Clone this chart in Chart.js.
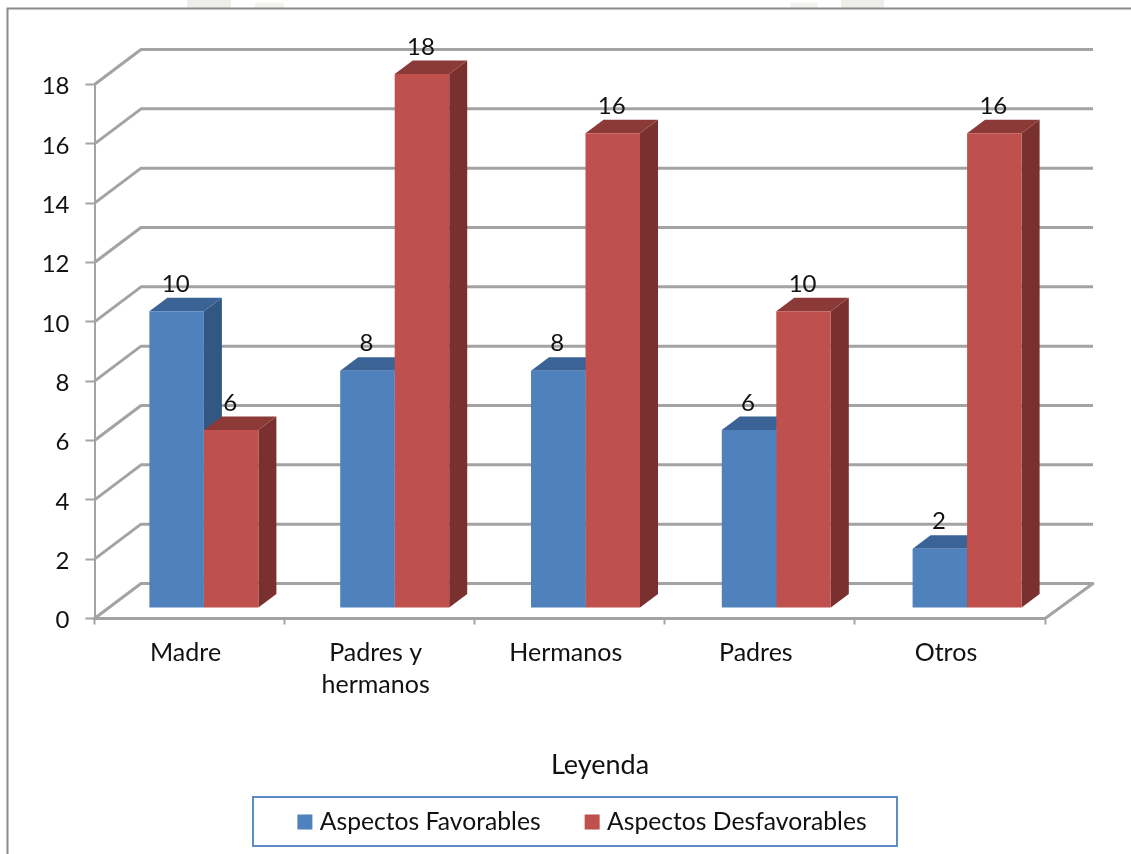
<!DOCTYPE html>
<html>
<head>
<meta charset="utf-8">
<style>html,body{margin:0;padding:0;background:#fff}canvas{display:block}</style>
<script src="https://cdn.jsdelivr.net/npm/chart.js@4"></script>
</head>
<body>
<canvas id="c" width="1131" height="854"></canvas>
<script>
const categories = [["Madre"], ["Padres y", "hermanos"], ["Hermanos"], ["Padres"], ["Otros"]];
const favorables = [10, 8, 8, 6, 2];
const desfavorables = [6, 18, 16, 10, 16];
const seriesNames = ["Aspectos Favorables", "Aspectos Desfavorables"];
const axisTitle = "Leyenda";
const FONT = "Lato, sans-serif";
const GRID = "#a3a3a3";
const barColors = ["#4f81bd", "#c0504d"];

const depth = {wall: [46.5, -35], bar: [18, -13.5], shiftY: -10.5};
const sideColors = ["#335783", "#7a302e"];
const topColors = ["#3b6396", "#8c3a37"];
const legendFont = 24.7, legendPad = 44, legendDx = 59.5, titleDx = 77.5;

const threeD = {
  id: "threeD",
  beforeDraw(chart) {
    const c = chart.ctx;
    c.save();
    c.fillStyle = "#fff";
    c.fillRect(0, 0, chart.width, chart.height);
    c.fillStyle = "#eeeeea";
    c.fillRect(187, 0, 44, 8);
    c.fillRect(841, 0, 43, 8);
    c.fillStyle = "#f3f3ef";
    c.fillRect(255, 3, 29, 5);
    c.fillRect(790, 3, 28, 5);
    c.strokeStyle = "#8a8a8a";
    c.lineWidth = 2;
    c.beginPath();
    c.moveTo(7.5, 854); c.lineTo(7.5, 8.5); c.lineTo(1131, 8.5);
    c.stroke();
    c.strokeStyle = "#5b8cc4";
    c.lineWidth = 2;
    c.strokeRect(253, 797, 644, 49);
    c.restore();
  },
  afterLayout(chart) {
    const lg = chart.legend, tt = chart.titleBlock;
    lg.left += legendDx; lg.right += legendDx;
    const lh = lg.height; lg.top = 822 - legendPad - legendFont / 2; lg.bottom = lg.top + lh;
    tt.left += titleDx; tt.right += titleDx;
    const th = tt.height; tt.top = 765 - th / 2; tt.bottom = tt.top + th;
    // the bars sit on the floor of the 3D box: their own category scale is set back from the axis
    const sc = chart.scales.xBar;
    sc.left = 108.5; sc.right = 1062.5; sc.width = 954;
    sc.configure();
  },
  beforeDatasetsDraw(chart) {
    const c = chart.ctx, y = chart.scales.y, x = chart.scales.x;
    const [wx, wy] = depth.wall;
    const L = x.left, R = x.right;
    c.save();
    c.strokeStyle = GRID;
    c.lineWidth = 3;
    c.lineJoin = "round";
    y.ticks.forEach(t => {
      const py = y.getPixelForValue(t.value);
      c.beginPath();
      c.moveTo(L, py);
      c.lineTo(L + wx, py + wy);
      c.lineTo(R + wx + 1.5, py + wy);
      if (t.value === 0) c.lineTo(R, py);
      c.stroke();
    });
    c.restore();
    c.save();
    c.translate(0, depth.shiftY);
    const [bx, by] = depth.bar;
    chart.data.datasets.forEach((ds, i) => {
      chart.getDatasetMeta(i).data.forEach(el => {
        const l = el.x - el.width / 2, r = el.x + el.width / 2, t = el.y, b = el.base;
        c.fillStyle = sideColors[i];
        c.beginPath();
        c.moveTo(r, t); c.lineTo(r + bx, t + by); c.lineTo(r + bx, b + by); c.lineTo(r, b);
        c.closePath(); c.fill();
        c.fillStyle = topColors[i];
        c.beginPath();
        c.moveTo(l, t); c.lineTo(l + bx, t + by); c.lineTo(r + bx, t + by); c.lineTo(r, t);
        c.closePath(); c.fill();
      });
    });
  },
  afterDatasetsDraw(chart) {
    const c = chart.ctx;
    c.restore();
    c.save();
    c.fillStyle = "#111";
    c.font = "24px " + FONT;
    c.textAlign = "center";
    c.textBaseline = "middle";
    chart.data.datasets.forEach((ds, i) => {
      chart.getDatasetMeta(i).data.forEach((el, k) => {
        c.fillText(ds.data[k], el.x - 1, el.y + depth.shiftY - 27);
      });
    });
    c.restore();
  },
  afterDraw(chart) {
    // widen the legend swatches to the reference's square, keeping the text gap
    const c = chart.ctx, lg = chart.legend;
    c.save();
    lg.legendItems.forEach((it, i) => {
      const hb = lg.legendHitBoxes[i];
      c.fillStyle = it.fillStyle;
      c.fillRect(hb.left + 9, lg.top + legendPad + (legendFont - 15) / 2, 6, 15);
    });
    c.restore();
  }
};

new Chart(document.getElementById("c"), {
  type: "bar",
  data: {
    labels: categories,
    datasets: [
      {label: seriesNames[0], data: favorables, backgroundColor: barColors[0], borderWidth: 0, clip: false, xAxisID: "xBar"},
      {label: seriesNames[1], data: desfavorables, backgroundColor: barColors[1], borderWidth: 0, clip: false, xAxisID: "xBar"}
    ]
  },
  options: {
    responsive: false,
    animation: false,
    layout: {padding: {left: 0, right: 86, top: 84.5, bottom: 0}},
    datasets: {bar: {categoryPercentage: 0.5713, barPercentage: 1}},
    scales: {
      x: {
        type: "category",
        labels: categories,
        grid: {drawOnChartArea: false, tickLength: 6, tickColor: GRID, tickWidth: 2, offset: true},
        border: {color: GRID, width: 3},
        ticks: {color: "#111", font: {family: FONT, size: 25, lineHeight: 1.28}, padding: 12, maxRotation: 0, labelOffset: -4},
        afterFit(s) {
          const ch = s.chart;
          s.height = 854 - 618.5 - (ch.legend ? ch.legend.height : 0) - (ch.titleBlock ? ch.titleBlock.height : 0);
        }
      },
      xBar: {type: "category", labels: categories, display: false, offset: true},
      y: {
        min: 0, max: 18,
        grid: {drawOnChartArea: false, tickLength: 9, tickColor: GRID, tickWidth: 2},
        border: {color: GRID, width: 2},
        ticks: {stepSize: 2, color: "#111", font: {family: FONT, size: 24}, padding: 16, labelOffset: 2},
        afterFit(s) { s.width = 94.5; }
      }
    },
    plugins: {
      tooltip: {enabled: false},
      title: {display: true, position: "bottom", text: axisTitle, color: "#111", font: {family: FONT, size: 27, weight: "normal"}, padding: 0},
      legend: {
        display: true, position: "bottom",
        labels: {boxWidth: 10, boxHeight: 15, color: "#111", font: {family: FONT, size: legendFont}, padding: legendPad}
      }
    }
  },
  plugins: [threeD]
});
</script>
</body>
</html>
